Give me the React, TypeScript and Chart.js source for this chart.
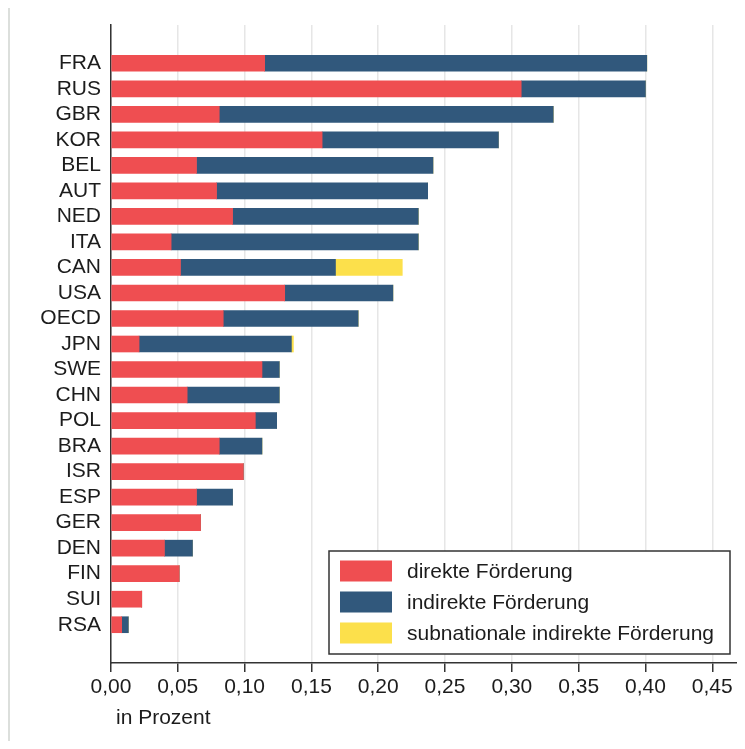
import React, { useEffect, useRef } from "react";
import { Chart, registerables } from "chart.js";

Chart.register(...registerables);

const categories = ["FRA", "RUS", "GBR", "KOR", "BEL", "AUT", "NED", "ITA", "CAN", "USA", "OECD", "JPN", "SWE", "CHN", "POL", "BRA", "ISR", "ESP", "GER", "DEN", "FIN", "SUI", "RSA"];
const direkt = [0.115, 0.307, 0.081, 0.158, 0.064, 0.079, 0.091, 0.045, 0.052, 0.130, 0.084, 0.021, 0.113, 0.057, 0.108, 0.081, 0.099, 0.064, 0.067, 0.040, 0.051, 0.023, 0.008];
const indirekt = [0.286, 0.093, 0.250, 0.132, 0.177, 0.158, 0.139, 0.185, 0.116, 0.081, 0.101, 0.114, 0.013, 0.069, 0.016, 0.032, 0, 0.027, 0, 0.021, 0, 0, 0.005];
const subnational = [0, 0, 0, 0, 0, 0, 0, 0, 0.050, 0, 0, 0.0015, 0, 0, 0, 0, 0, 0, 0, 0, 0, 0, 0];
const seriesLabels = ["direkte Förderung", "indirekte Förderung", "subnationale indirekte Förderung"];
const seriesColors = ["#EF4E51", "#31587C", "#FCE04B"];
const xTicks = [0, 0.05, 0.1, 0.15, 0.2, 0.25, 0.3, 0.35, 0.4, 0.45];
const axisTitle = "in Prozent";

const FONT_FAMILY = "'Liberation Sans', Arial, Helvetica, sans-serif";
const FONT_SIZE = 21;
const TEXT_COLOR = "#1c1c1c";

const boxLegend = {
  id: "boxLegend",
  afterDraw(chart: any) {
    const { ctx, chartArea } = chart;
    const w = 401;
    const h = 103;
    const x0 = chartArea.right - 9 - w;
    const y0 = chartArea.bottom - 9 - h;
    ctx.save();
    ctx.fillStyle = "#ffffff";
    ctx.fillRect(x0, y0, w, h);
    ctx.strokeStyle = "#333333";
    ctx.lineWidth = 1.5;
    ctx.strokeRect(x0, y0, w, h);
    ctx.font = `${FONT_SIZE}px ${FONT_FAMILY}`;
    ctx.textBaseline = "middle";
    ctx.textAlign = "left";
    chart.data.datasets.forEach((ds: any, i: number) => {
      const cy = y0 + 20 + i * 31;
      ctx.fillStyle = ds.backgroundColor;
      ctx.fillRect(x0 + 11, cy - 10.5, 52, 21);
      ctx.fillStyle = TEXT_COLOR;
      ctx.fillText(ds.label, x0 + 78, cy + 1);
    });
    ctx.fillStyle = TEXT_COLOR;
    ctx.fillText(axisTitle, chartArea.left + 5, chartArea.bottom + 55);
    ctx.restore();
  },
};

export default function App() {
  const ref = useRef<HTMLCanvasElement | null>(null);

  useEffect(() => {
    if (!ref.current) return;
    const labels = ["", ...categories, ""];
    const pad = (arr: number[]) => [null, ...arr, null];
    const chart = new Chart(ref.current, {
      type: "bar",
      data: {
        labels,
        datasets: [direkt, indirekt, subnational].map((d, i) => ({
          label: seriesLabels[i],
          data: pad(d) as any,
          backgroundColor: seriesColors[i],
          borderWidth: 0,
          barThickness: 16,
        })),
      },
      plugins: [boxLegend],
      options: {
        indexAxis: "y",
        animation: false,
        responsive: false,
        maintainAspectRatio: false,
        layout: { padding: { top: 17, right: 6, left: 0, bottom: 0 } },
        plugins: {
          legend: { display: false },
          tooltip: { enabled: false },
          title: { display: false },
        },
        scales: {
          x: {
            type: "linear",
            stacked: true,
            min: 0,
            max: 0.47,
            afterFit: (scale: any) => {
              scale.height = 78;
              scale.paddingLeft = 0;
              scale.paddingRight = 0;
            },
            afterBuildTicks: (scale: any) => {
              scale.ticks = xTicks.map((v) => ({ value: v }));
            },
            grid: {
              color: "#e6e6e6",
              lineWidth: 1.5,
              drawTicks: true,
              tickLength: 9,
              tickColor: "#333333",
            },
            border: { display: true, color: "#333333", width: 1.5 },
            ticks: {
              stepSize: 0.05,
              includeBounds: false,
              padding: 3,
              color: TEXT_COLOR,
              font: { family: FONT_FAMILY, size: FONT_SIZE },
              maxRotation: 0,
              autoSkip: false,
              callback: (v: any) => Number(v).toFixed(2).replace(".", ","),
            },
          },
          y: {
            type: "category",
            stacked: true,
            afterFit: (scale: any) => {
              scale.width = 101;
              scale.paddingTop = 0;
              scale.paddingBottom = 0;
            },
            grid: { display: false, drawTicks: false },
            border: { display: true, color: "#333333", width: 1.5 },
            ticks: {
              padding: 10,
              color: TEXT_COLOR,
              font: { family: FONT_FAMILY, size: FONT_SIZE },
              autoSkip: false,
            },
          },
        },
      },
    });
    return () => chart.destroy();
  }, []);

  return (
    <div
      style={{
        marginTop: -2,
        width: 735,
        borderTop: "2px solid #dcdfdc",
        borderLeft: "2px solid #dcdfdc",
        overflow: "hidden",
      }}
    >
      <canvas ref={ref} width={735} height={733} style={{ display: "block" }} />
    </div>
  );
}
